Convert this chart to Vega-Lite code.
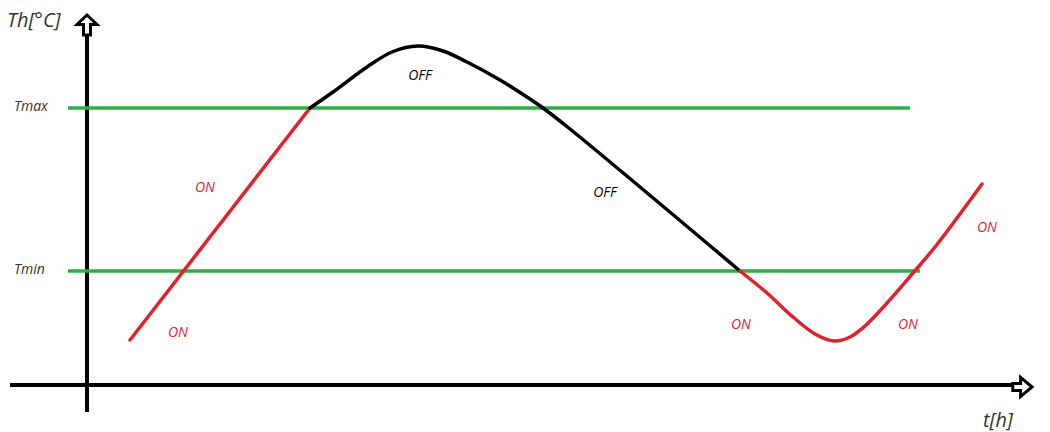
{
  "$schema": "https://vega.github.io/schema/vega-lite/v6.json",
  "width": 1050,
  "height": 432,
  "autosize": {"type": "fit", "contains": "padding"},
  "padding": 0,
  "background": "white",
  "config": {"view": {"stroke": null}, "axis": {"disable": true}},
  "datasets": {
    "axes": [
      {"name": "t", "x": 10, "x2": 1012, "y": 385, "y2": 385},
      {"name": "Th", "x": 87, "x2": 87, "y": 412, "y2": 30}
    ],
    "limits": [
      {"name": "Tmax", "x": 68, "x2": 910, "y": 108},
      {"name": "Tmin", "x": 68, "x2": 920, "y": 271}
    ],
    "curve": [
      {"seg": "a", "state": "ON", "x": 130, "y": 340},
      {"seg": "a", "state": "ON", "x": 310, "y": 108},
      {"seg": "b", "state": "OFF", "x": 310, "y": 108},
      {"seg": "b", "state": "OFF", "x": 333, "y": 92},
      {"seg": "b", "state": "OFF", "x": 367, "y": 67},
      {"seg": "b", "state": "OFF", "x": 392, "y": 52},
      {"seg": "b", "state": "OFF", "x": 418, "y": 46},
      {"seg": "b", "state": "OFF", "x": 443, "y": 51},
      {"seg": "b", "state": "OFF", "x": 467, "y": 62},
      {"seg": "b", "state": "OFF", "x": 500, "y": 80},
      {"seg": "b", "state": "OFF", "x": 530, "y": 99},
      {"seg": "b", "state": "OFF", "x": 543, "y": 108},
      {"seg": "b", "state": "OFF", "x": 570, "y": 129},
      {"seg": "b", "state": "OFF", "x": 740, "y": 271},
      {"seg": "c", "state": "ON", "x": 740, "y": 271},
      {"seg": "c", "state": "ON", "x": 767, "y": 293},
      {"seg": "c", "state": "ON", "x": 793, "y": 317},
      {"seg": "c", "state": "ON", "x": 815, "y": 334},
      {"seg": "c", "state": "ON", "x": 834, "y": 341},
      {"seg": "c", "state": "ON", "x": 850, "y": 337},
      {"seg": "c", "state": "ON", "x": 865, "y": 326},
      {"seg": "c", "state": "ON", "x": 887, "y": 303},
      {"seg": "c", "state": "ON", "x": 913, "y": 273},
      {"seg": "c", "state": "ON", "x": 935, "y": 247},
      {"seg": "c", "state": "ON", "x": 982, "y": 184}
    ],
    "labels": [
      {"text": "ON", "kind": "ON", "x": 205, "y": 188},
      {"text": "ON", "kind": "ON", "x": 178, "y": 333},
      {"text": "ON", "kind": "ON", "x": 741, "y": 325},
      {"text": "ON", "kind": "ON", "x": 908, "y": 325},
      {"text": "ON", "kind": "ON", "x": 987, "y": 228},
      {"text": "OFF", "kind": "OFF", "x": 420, "y": 76},
      {"text": "OFF", "kind": "OFF", "x": 605, "y": 193}
    ],
    "names": [
      {"text": "Tmax", "x": 14, "y": 107, "big": "no"},
      {"text": "Tmin", "x": 14, "y": 270, "big": "no"},
      {"text": "Th[°C]", "x": 7, "y": 21, "big": "yes"},
      {"text": "t[h]", "x": 983, "y": 421, "big": "yes"}
    ],
    "upArrow": [{"x": 87, "y": 25}],
    "rightArrow": [{"x": 1020, "y": 387}]
  },
  "layer": [
    {
      "data": {"name": "axes"},
      "mark": {"type": "rule", "color": "black", "strokeWidth": 4},
      "encoding": {
        "x": {"field": "x", "type": "quantitative", "scale": {"domain": [0, 1050], "nice": false, "zero": false}},
        "x2": {"field": "x2"},
        "y": {"field": "y", "type": "quantitative", "scale": {"domain": [0, 432], "reverse": true, "nice": false, "zero": false}},
        "y2": {"field": "y2"}
      }
    },
    {
      "data": {"name": "limits"},
      "mark": {"type": "rule", "color": "#2fae45", "strokeWidth": 3.5},
      "encoding": {
        "x": {"field": "x", "type": "quantitative"},
        "x2": {"field": "x2"},
        "y": {"field": "y", "type": "quantitative"}
      }
    },
    {
      "data": {"name": "curve"},
      "mark": {"type": "line", "interpolate": "catmull-rom", "strokeWidth": 3.5, "strokeCap": "round"},
      "encoding": {
        "x": {"field": "x", "type": "quantitative"},
        "y": {"field": "y", "type": "quantitative"},
        "detail": {"field": "seg"},
        "order": {"field": "x"},
        "color": {"field": "state", "type": "nominal", "legend": null,
          "scale": {"domain": ["ON", "OFF"], "range": ["#e3202b", "#000000"]}}
      }
    },
    {
      "data": {"name": "labels"},
      "mark": {"type": "text", "font": "Open Sans", "fontStyle": "italic", "fontSize": 14, "align": "center", "baseline": "middle"},
      "encoding": {
        "x": {"field": "x", "type": "quantitative"},
        "y": {"field": "y", "type": "quantitative"},
        "text": {"field": "text"},
        "color": {"field": "kind", "type": "nominal", "legend": null,
          "scale": {"domain": ["ON", "OFF"], "range": ["#e03a40", "#333333"]}}
      }
    },
    {
      "data": {"name": "names"},
      "mark": {"type": "text", "font": "Open Sans", "fontStyle": "italic", "align": "left", "baseline": "middle", "color": "#333333"},
      "encoding": {
        "x": {"field": "x", "type": "quantitative"},
        "y": {"field": "y", "type": "quantitative"},
        "text": {"field": "text"},
        "size": {"field": "big", "type": "nominal", "legend": null,
          "scale": {"domain": ["no", "yes"], "range": [14, 20]}}
      }
    },
    {
      "data": {"name": "upArrow"},
      "mark": {"type": "point", "filled": true, "fill": "white", "stroke": "black", "strokeWidth": 3, "opacity": 1,
        "shape": "M0,-1 L1,-0.05 L0.35,-0.05 L0.35,1 L-0.35,1 L-0.35,-0.05 L-1,-0.05 Z", "size": 400},
      "encoding": {
        "x": {"field": "x", "type": "quantitative"},
        "y": {"field": "y", "type": "quantitative"}
      }
    },
    {
      "data": {"name": "rightArrow"},
      "mark": {"type": "point", "filled": true, "fill": "white", "stroke": "black", "strokeWidth": 3, "opacity": 1,
        "shape": "M1,0 L0.05,-0.8 L0.05,-0.3 L-0.6,-0.3 L-0.6,0.3 L0.05,0.3 L0.05,0.8 Z", "size": 576},
      "encoding": {
        "x": {"field": "x", "type": "quantitative"},
        "y": {"field": "y", "type": "quantitative"}
      }
    }
  ]
}
